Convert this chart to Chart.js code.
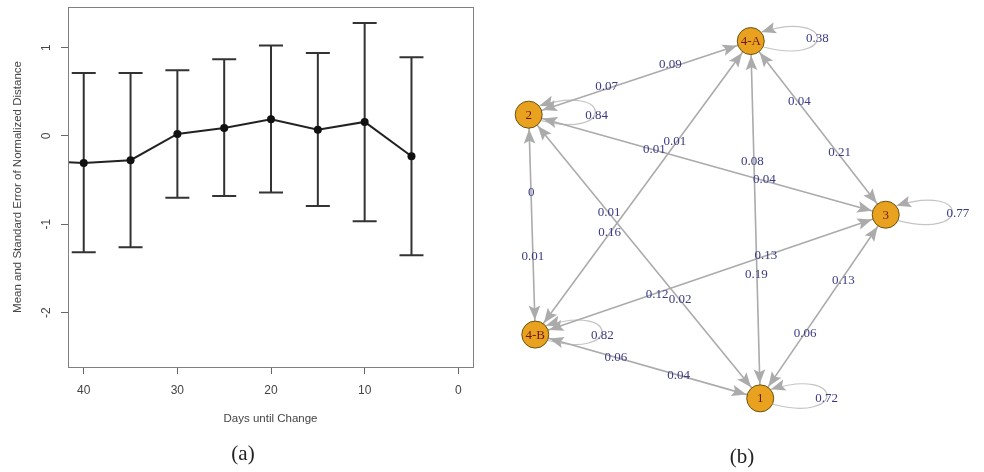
<!DOCTYPE html>
<html><head><meta charset="utf-8">
<script src="https://cdn.jsdelivr.net/npm/chart.js@4.4.1/dist/chart.umd.min.js"></script>
<style>
html,body{margin:0;padding:0;background:#fff;width:984px;height:472px;overflow:hidden;position:relative}
#ca{position:absolute;left:0;top:0}
#cb{position:absolute;left:490px;top:0}
.cap{position:absolute;font-family:"Liberation Serif",serif;font-size:21px;color:#222;transform:translate(-50%,-50%);white-space:nowrap}
</style></head><body>
<canvas id="ca" width="490" height="472"></canvas>
<canvas id="cb" width="494" height="472"></canvas>
<div class="cap" style="left:243px;top:453px">(a)</div>
<div class="cap" style="left:742px;top:456px">(b)</div>
<script>
// ---------- Panel (a) data ----------
const days      = [45, 40, 35, 30, 25, 20, 15, 10, 5];
const meanDist  = [-0.28, -0.306, -0.275, 0.023, 0.091, 0.189, 0.071, 0.159, -0.230];
const upperSE   = [null, 0.713, 0.713, 0.744, 0.868, 1.023, 0.940, 1.280, 0.891];
const lowerSE   = [null, -1.317, -1.260, -0.699, -0.679, -0.641, -0.793, -0.966, -1.351];
const xTicks    = [40, 30, 20, 10, 0];
const yTicks    = [-2, -1, 0, 1];

// ---------- Panel (b) data ----------
const nodeNames = ['1', '2', '3', '4-A', '4-B'];
const nodeX     = [0.297, -1.0, 1.0, 0.244, -0.963];
const nodeY     = [-1.0, 0.588, 0.028, 1.0, -0.643];
const transFrom = ['2','4-A','4-A','3','2','3','4-B','4-A','2','1','4-A','1','4-B','3','3','1','2','4-B','4-B','1'];
const transTo   = ['4-A','2','3','4-A','3','2','4-A','4-B','1','2','1','4-A','3','4-B','1','3','4-B','2','1','4-B'];
const transProb = ['0.07','0.09','0.21','0.04','0.04','0.01','0.01','0.16','0.02','0.01','0.19','0.08','0.13','0.12','0.06','0.13','0.01','0','0.04','0.06'];
const transLabelX = [-0.564,-0.207,0.742,0.516,0.320,-0.296,-0.181,-0.547,-0.151,-0.550,0.276,0.253,0.329,-0.280,0.548,0.763,-0.977,-0.986,-0.160,-0.512];
const transLabelY = [0.743,0.869,0.378,0.662,0.224,0.392,0.439,-0.072,-0.448,0.042,-0.305,0.325,-0.203,-0.418,-0.638,-0.340,-0.208,0.151,-0.874,-0.769];
const loopNode   = ['4-A', '2', '3', '4-B', '1'];
const loopProb   = ['0.38', '0.84', '0.77', '0.82', '0.72'];
const loopLabelX = [0.617, -0.620, 1.404, -0.587, 0.669];
const loopLabelY = [1.014, 0.585, 0.033, -0.646, -1.0];

// ---------- Panel (a) chart ----------
const errorBarPlugin = {
  id: 'errorBars',
  beforeDatasetsDraw(chart) {
    const {ctx, scales: {x, y}, chartArea: a} = chart;
    ctx.save();
    ctx.beginPath(); ctx.rect(a.left, a.top, a.right - a.left, a.bottom - a.top); ctx.clip();
    ctx.strokeStyle = '#333'; ctx.lineWidth = 2;
    days.forEach((d, i) => {
      if (upperSE[i] == null) return;
      const px = x.getPixelForValue(d), pu = y.getPixelForValue(upperSE[i]), pl = y.getPixelForValue(lowerSE[i]);
      ctx.beginPath();
      ctx.moveTo(px, pu); ctx.lineTo(px, pl);
      ctx.moveTo(px - 12, pu); ctx.lineTo(px + 12, pu);
      ctx.moveTo(px - 12, pl); ctx.lineTo(px + 12, pl);
      ctx.stroke();
    });
    ctx.restore();
  },
  afterDraw(chart) {
    const {ctx, chartArea: a} = chart;
    ctx.save();
    ctx.strokeStyle = '#808080'; ctx.lineWidth = 1;
    ctx.strokeRect(Math.round(a.left) + 0.5, Math.round(a.top) + 0.5, Math.round(a.right - a.left), Math.round(a.bottom - a.top));
    ctx.restore();
  }
};

const tickFont = {family: 'Liberation Sans', size: 12};
const titleFont = {family: 'Liberation Sans', size: 11.5};

new Chart(document.getElementById('ca'), {
  type: 'scatter',
  data: {
    datasets: [{
      data: days.map((d, i) => ({x: d, y: meanDist[i]})),
      showLine: true,
      borderColor: '#222', borderWidth: 2,
      pointRadius: 4, pointBackgroundColor: '#111', pointBorderWidth: 0,
      tension: 0
    }]
  },
  options: {
    responsive: false, animation: false, devicePixelRatio: 1,
    layout: {padding: {left: 0, top: 7, right: 17, bottom: 0}},
    plugins: {legend: {display: false}, tooltip: {enabled: false}},
    scales: {
      x: {
        type: 'linear', reverse: true, min: -1.57, max: 41.68,
        afterBuildTicks(s) { s.ticks = xTicks.map(v => ({value: v})); },
        afterFit(s) { s.height = 105; s.paddingLeft = 0; s.paddingRight = 0; },
        grid: {drawOnChartArea: false, drawTicks: true, tickLength: 7, color: '#666'},
        border: {display: false},
        ticks: {font: tickFont, color: '#444', padding: 9, maxRotation: 0, autoSkip: false},
        title: {display: true, text: 'Days until Change', font: titleFont, color: '#444', padding: {top: 0, bottom: 46}}
      },
      y: {
        type: 'linear', min: -2.616, max: 1.46,
        afterBuildTicks(s) { s.ticks = yTicks.map(v => ({value: v})); },
        afterFit(s) { s.width = 68; s.paddingTop = 0; s.paddingBottom = 0; },
        grid: {drawOnChartArea: false, drawTicks: true, tickLength: 7, color: '#666'},
        border: {display: false},
        ticks: {font: tickFont, color: '#444', padding: 9, minRotation: 90, maxRotation: 90, crossAlign: 'center', autoSkip: false},
        title: {display: true, text: 'Mean and Standard Error of Normalized Distance', font: titleFont, color: '#444', padding: {top: 10.7, bottom: 0}}
      }
    }
  },
  plugins: [errorBarPlugin]
});

// ---------- Panel (b) chart ----------
const NODE_R = 14;
function nodeIdx(n) { return nodeNames.indexOf(n); }
function nodePx(chart, n) {
  const i = nodeIdx(n);
  return [chart.scales.x.getPixelForValue(nodeX[i]), chart.scales.y.getPixelForValue(nodeY[i])];
}
function drawArrow(ctx, tx, ty, dx, dy) {
  const len = Math.hypot(dx, dy); const ux = dx / len, uy = dy / len;
  const L = 14.5, W = 5.8;
  const bx = tx - ux * L, by = ty - uy * L;
  const nx = -uy, ny = ux;
  ctx.beginPath();
  ctx.moveTo(tx, ty);
  ctx.lineTo(bx + nx * W, by + ny * W);
  ctx.lineTo(tx - ux * L * 0.8, ty - uy * L * 0.8);
  ctx.lineTo(bx - nx * W, by - ny * W);
  ctx.closePath();
  ctx.fill();
}

const networkPlugin = {
  id: 'network',
  beforeDatasetsDraw(chart) {
    const ctx = chart.ctx;
    ctx.save();
    // self loops
    loopNode.forEach(n => {
      const [cx, cy] = nodePx(chart, n);
      const a0 = 25 * Math.PI / 180, a1 = -40 * Math.PI / 180;
      const p0 = [cx + NODE_R * Math.cos(a0), cy + NODE_R * Math.sin(a0)];
      const p3 = [cx + NODE_R * Math.cos(a1), cy + NODE_R * Math.sin(a1)];
      const c1 = [cx + 85, cy + 25], c2 = [cx + 85, cy - 32];
      ctx.strokeStyle = '#c4c4c4'; ctx.lineWidth = 1.2;
      ctx.beginPath();
      ctx.moveTo(p0[0], p0[1]);
      ctx.bezierCurveTo(c1[0], c1[1], c2[0], c2[1], p3[0], p3[1]);
      ctx.stroke();
      ctx.fillStyle = '#ababab';
      drawArrow(ctx, p3[0], p3[1], p3[0] - c2[0], p3[1] - c2[1]);
    });
    // arrowheads of transitions
    ctx.fillStyle = '#ababab';
    transFrom.forEach((f, i) => {
      const [x0, y0] = nodePx(chart, f);
      const [x1, y1] = nodePx(chart, transTo[i]);
      const dx = x1 - x0, dy = y1 - y0, len = Math.hypot(dx, dy);
      const tx = x1 - dx / len * (NODE_R + 0.5), ty = y1 - dy / len * (NODE_R + 0.5);
      drawArrow(ctx, tx, ty, dx, dy);
    });
    ctx.restore();
  },
  afterDatasetsDraw(chart) {
    const ctx = chart.ctx, sx = chart.scales.x, sy = chart.scales.y;
    ctx.save();
    ctx.textAlign = 'center'; ctx.textBaseline = 'middle';
    ctx.font = '13px "Liberation Serif"';
    ctx.fillStyle = '#3a3a86';
    transProb.forEach((p, i) => ctx.fillText(p, sx.getPixelForValue(transLabelX[i]), sy.getPixelForValue(transLabelY[i])));
    loopProb.forEach((p, i) => ctx.fillText(p, sx.getPixelForValue(loopLabelX[i]), sy.getPixelForValue(loopLabelY[i])));
    ctx.fillStyle = '#6a1818';
    nodeNames.forEach((n, i) => ctx.fillText(n, sx.getPixelForValue(nodeX[i]), sy.getPixelForValue(nodeY[i]) + 0.5));
    ctx.restore();
  }
};

// unique undirected pairs for edge lines
const edgePairs = [];
transFrom.forEach((f, i) => {
  const t = transTo[i];
  if (!edgePairs.some(p => (p[0] === f && p[1] === t) || (p[0] === t && p[1] === f))) edgePairs.push([f, t]);
});

const edgeDatasets = edgePairs.map(([f, t]) => ({
  data: [{x: nodeX[nodeIdx(f)], y: nodeY[nodeIdx(f)]}, {x: nodeX[nodeIdx(t)], y: nodeY[nodeIdx(t)]}],
  showLine: true, borderColor: '#ababab', borderWidth: 1.6, pointRadius: 0, order: 1, clip: false
}));

new Chart(document.getElementById('cb'), {
  type: 'scatter',
  data: {
    datasets: [
      ...edgeDatasets,
      {
        data: nodeNames.map((n, i) => ({x: nodeX[i], y: nodeY[i]})),
        pointRadius: NODE_R - 0.5, pointBackgroundColor: '#E9A21F', pointBorderColor: '#6a5212', pointBorderWidth: 1,
        order: 0, clip: false
      }
    ]
  },
  options: {
    responsive: false, animation: false, devicePixelRatio: 1,
    layout: {padding: 0},
    plugins: {legend: {display: false}, tooltip: {enabled: false}},
    scales: {
      x: {type: 'linear', display: false, min: -1.1355, max: 1.4693},
      y: {type: 'linear', display: false, min: -1.331, max: 1.1487}
    }
  },
  plugins: [networkPlugin]
});
</script>
</body></html>
